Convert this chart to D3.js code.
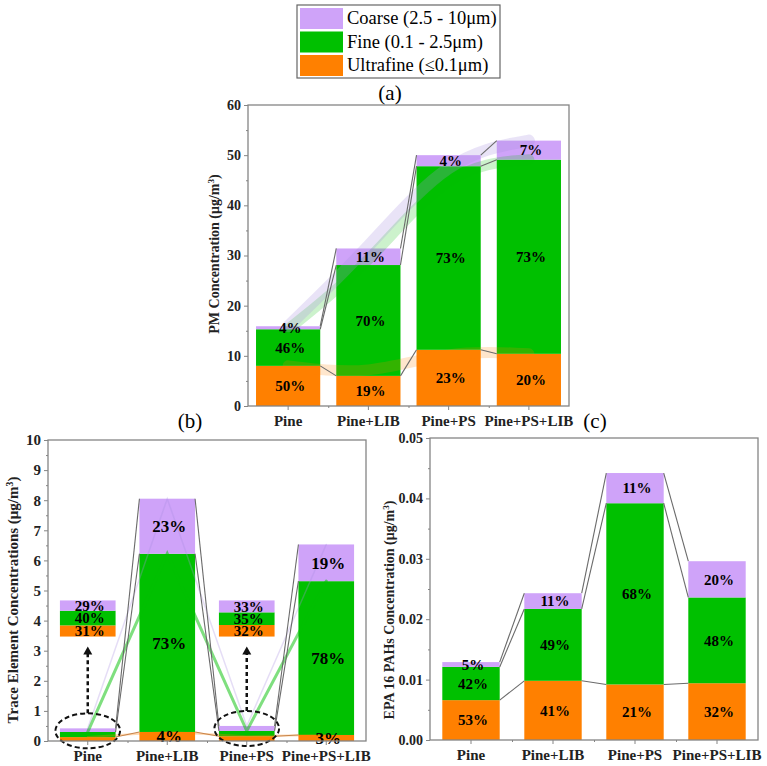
<!DOCTYPE html>
<html>
<head>
<meta charset="utf-8">
<script src="https://cdn.jsdelivr.net/npm/d3@7"></script>
<style>
body { margin: 0; background: #fff; }
svg text { font-family: "Liberation Serif", "Times New Roman", serif; }
</style>
</head>
<body>
<svg id="chart" width="767" height="766"></svg>
<script>
// ---- data ----
var categories = ["Pine", "Pine+LIB", "Pine+PS", "Pine+PS+LIB"];
var sizeClasses = ["Coarse (2.5 - 10\u03bcm)", "Fine (0.1 - 2.5\u03bcm)", "Ultrafine (\u22640.1\u03bcm)"];
var classColors = ["#CFA3F9", "#00C000", "#FF8000"];

// (a) PM concentration, ug/m3
var pmUltrafine = [8.0, 6.0, 11.2, 10.4];
var pmFine = [7.3, 22.1, 36.6, 38.7];
var pmCoarse = [0.6, 3.3, 2.2, 3.8];
var pmUltrafineLabels = ["50%", "19%", "23%", "20%"];
var pmFineLabels = ["46%", "70%", "73%", "73%"];
var pmCoarseLabels = ["4%", "11%", "4%", "7%"];
var pmTicks = [0, 10, 20, 30, 40, 50, 60];

// (b) trace elements, ug/m3
var teUltrafine = [0.13, 0.30, 0.16, 0.20];
var teFine = [0.17, 5.92, 0.175, 5.11];
var teCoarse = [0.12, 1.83, 0.165, 1.22];
var teUltrafineLabels = [null, "4%", null, "3%"];
var teFineLabels = [null, "73%", null, "78%"];
var teCoarseLabels = [null, "23%", null, "19%"];
var teInsetBars = [0, 2];
var teInsetLabels = [["31%", "40%", "29%"], null, ["32%", "35%", "33%"], null];
var teTicks = [0, 1, 2, 3, 4, 5, 6, 7, 8, 9, 10];

// (c) EPA 16 PAHs, ug/m3
var pahUltrafine = [0.0066, 0.0098, 0.0092, 0.0094];
var pahFine = [0.0055, 0.0119, 0.0300, 0.0142];
var pahCoarse = [0.0008, 0.0026, 0.0050, 0.0060];
var pahUltrafineLabels = ["53%", "41%", "21%", "32%"];
var pahFineLabels = ["42%", "49%", "68%", "48%"];
var pahCoarseLabels = ["5%", "11%", "11%", "20%"];
var pahTicks = [0, 0.01, 0.02, 0.03, 0.04, 0.05];

var svg = d3.select("#chart");

/**
 * Draws the legend box on top of the figure
 */
function drawLegend() {
    var lg = svg.append("g").attr("transform", "translate(297,5)");
    lg.append("rect")
        .attr("width", 203).attr("height", 73)
        .attr("fill", "#fff").attr("stroke", "#666").attr("stroke-width", 1.2);
    var rows = lg.selectAll("g.row").data(sizeClasses).enter().append("g")
        .attr("transform", function (d, i) { return "translate(3," + (3 + i * 23.5) + ")"; });
    rows.append("rect")
        .attr("width", 43).attr("height", 21)
        .attr("fill", function (d, i) { return classColors[i]; });
    rows.append("text")
        .attr("x", 47).attr("y", 16)
        .attr("font-size", 18.5)
        .text(function (d) { return d; });
}

/**
 * Draws one stacked bar panel
 */
function drawPanel(p) {
    var g = svg.append("g");

    var x = d3.scaleBand().domain(categories)
        .range([p.left, p.right])
        .paddingInner(p.pad).paddingOuter(p.pad / 2);
    var xLin = d3.scaleLinear().domain([0.5, categories.length + 0.5]).range([p.left, p.right]);
    var y = d3.scaleLinear().domain([0, p.ymax]).range([p.bottom, p.top]);

    // build stacks: ultrafine, fine, coarse (bottom up)
    var stacks = categories.map(function (c, i) {
        var u = p.ultrafine[i], f = p.fine[i], co = p.coarse[i];
        return [
            {cat: c, i: i, y0: 0, y1: u, color: classColors[2], label: p.ultraLabels[i]},
            {cat: c, i: i, y0: u, y1: u + f, color: classColors[1], label: p.fineLabels[i]},
            {cat: c, i: i, y0: u + f, y1: u + f + co, color: classColors[0], label: p.coarseLabels[i]}
        ];
    });
    var segs = [].concat.apply([], stacks);

    g.selectAll("rect.seg").data(segs).enter().append("rect")
        .attr("class", "seg")
        .attr("x", function (d) { return x(d.cat); })
        .attr("width", x.bandwidth())
        .attr("y", function (d) { return y(d.y1); })
        .attr("height", function (d) { return y(d.y0) - y(d.y1); })
        .attr("fill", function (d) { return d.color; });

    // translucent trend bands through bar centres
    if (p.bands) {
        [2, 1, 0].forEach(function (k) {
            var pts = stacks.map(function (s) { return [x(s[0].cat) + x.bandwidth() / 2, y(s[2 - k].y1)]; });
            g.append("path")
                .attr("d", d3.line().curve(p.bands.curve)(pts))
                .attr("fill", "none")
                .attr("stroke", k === 0 ? "#a98fe0" : classColors[k])
                .attr("stroke-opacity", p.bands.opacity[k])
                .attr("stroke-width", p.bands.width[k])
                .attr("stroke-linecap", "round");
        });
    }

    // connector lines between neighbouring bars
    for (var i = 0; i < stacks.length - 1; i++) {
        for (var k = 0; k < 3; k++) {
            g.append("line")
                .attr("x1", x(categories[i]) + x.bandwidth())
                .attr("y1", y(stacks[i][k].y1))
                .attr("x2", x(categories[i + 1]))
                .attr("y2", y(stacks[i + 1][k].y1))
                .attr("stroke", k === 0 && p.ultraLineColor ? p.ultraLineColor : "#6a6a6a")
                .attr("stroke-width", 1.1);
        }
    }

    // percentage labels
    g.selectAll("text.pct").data(segs.filter(function (d) { return d.label; })).enter().append("text")
        .attr("class", "pct")
        .attr("x", function (d) { return x(d.cat) + x.bandwidth() / 2 + 2; })
        .attr("y", function (d) { return (y(d.y0) + y(d.y1)) / 2; })
        .attr("dy", "0.35em")
        .attr("text-anchor", "middle")
        .attr("font-size", p.labelSize)
        .attr("font-weight", "bold")
        .text(function (d) { return d.label; });

    // magnified insets for the tiny bars
    if (p.insets) {
        p.insets.forEach(function (idx) {
            var s = stacks[idx];
            var total = s[2].y1;
            var cx = x(categories[idx]) + x.bandwidth() / 2;
            var base = p.insetBase;
            var ig = g.append("g");
            s.forEach(function (d, k) {
                var h0 = base + d.y0 / total * p.insetSpan;
                var h1 = base + d.y1 / total * p.insetSpan;
                ig.append("rect")
                    .attr("x", x(d.cat)).attr("width", x.bandwidth())
                    .attr("y", y(h1)).attr("height", y(h0) - y(h1))
                    .attr("fill", d.color);
            });
            s.forEach(function (d, k) {
                var h0 = base + d.y0 / total * p.insetSpan;
                var h1 = base + d.y1 / total * p.insetSpan;
                ig.append("text")
                    .attr("x", cx + 2).attr("y", (y(h0) + y(h1)) / 2)
                    .attr("dy", "0.35em")
                    .attr("text-anchor", "middle")
                    .attr("font-size", p.insetLabelSize)
                    .attr("font-weight", "bold")
                    .text(p.insetLabels[idx][k]);
            });
            // dashed ellipse round the tiny bar
            var cy = y(total) + 2.5;
            g.append("ellipse")
                .attr("cx", cx).attr("cy", cy)
                .attr("rx", x.bandwidth() / 2 + 4.5).attr("ry", 17.5)
                .attr("fill", "none").attr("stroke", "#111")
                .attr("stroke-width", 2).attr("stroke-dasharray", "5,3");
            // dashed arrow up to the inset
            var yStart = cy - 17.5;
            var yTip = y(base) + 10;
            g.append("line")
                .attr("x1", cx).attr("x2", cx)
                .attr("y1", yStart).attr("y2", yTip + 7)
                .attr("stroke", "#111").attr("stroke-width", 2.5)
                .attr("stroke-dasharray", "4,3");
            g.append("path")
                .attr("d", "M" + (cx - 4.5) + "," + (yTip + 8) + "L" + cx + "," + yTip + "L" + (cx + 4.5) + "," + (yTip + 8) + "Z")
                .attr("fill", "#111");
        });
    }

    // frame
    g.append("rect")
        .attr("x", p.left).attr("y", p.top)
        .attr("width", p.right - p.left).attr("height", p.bottom - p.top)
        .attr("fill", "none").attr("stroke", "#858585").attr("stroke-width", 1.3);

    // y axis, major and minor ticks
    var minor = [];
    for (var t = 0; t < p.ticks.length - 1; t++) minor.push((p.ticks[t] + p.ticks[t + 1]) / 2);
    var yAxis = g.append("g").attr("transform", "translate(" + p.left + ",0)")
        .call(d3.axisLeft(y).tickValues(p.ticks).tickFormat(p.tickFormat).tickSize(4).tickPadding(3));
    var yMinor = g.append("g").attr("transform", "translate(" + p.left + ",0)")
        .call(d3.axisLeft(y).tickValues(minor).tickFormat("").tickSize(2));
    [yAxis, yMinor].forEach(function (a) {
        a.select(".domain").remove();
        a.selectAll("line").attr("stroke", "#858585");
    });
    yAxis.selectAll("text")
        .attr("font-size", p.tickSize).attr("font-weight", "bold").attr("fill", "#222")
        .style("font-family", "'Liberation Serif', serif");

    // x axis
    var xAxis = g.append("g").attr("transform", "translate(0," + p.bottom + ")")
        .call(d3.axisBottom(x).tickSize(4).tickPadding(5));
    var xMinor = g.append("g").attr("transform", "translate(0," + p.bottom + ")")
        .call(d3.axisBottom(xLin).tickValues([1.5, 2.5, 3.5]).tickFormat("").tickSize(2));
    [xAxis, xMinor].forEach(function (a) {
        a.select(".domain").remove();
        a.selectAll("line").attr("stroke", "#858585");
    });
    xAxis.selectAll("text")
        .attr("font-size", 15).attr("font-weight", "bold").attr("fill", "#222")
        .style("font-family", "'Liberation Serif', serif");

    // y title
    var title = g.append("text")
        .attr("transform", "translate(" + p.titleX + "," + p.titleY + ") rotate(-90)")
        .attr("text-anchor", "middle")
        .attr("font-size", p.titleSize)
        .attr("font-weight", "bold")
        .attr("fill", "#222");
    title.append("tspan").text(p.title + " (\u03bcg/m");
    title.append("tspan").attr("baseline-shift", "super").attr("font-size", p.titleSize * 0.65).text("3");
    title.append("tspan").text(")");

    // panel letter
    svg.append("text")
        .attr("x", p.letterX).attr("y", p.letterY)
        .attr("text-anchor", "middle")
        .attr("font-size", 21)
        .text(p.letter);
}

drawLegend();

drawPanel({
    left: 248, right: 569, top: 105, bottom: 406, ymax: 60, pad: 0.2,
    ultrafine: pmUltrafine, fine: pmFine, coarse: pmCoarse,
    ultraLabels: pmUltrafineLabels, fineLabels: pmFineLabels, coarseLabels: pmCoarseLabels,
    ticks: pmTicks, tickFormat: d3.format("d"), tickSize: 14, labelSize: 15,
    bands: {curve: d3.curveBasis, opacity: [0.25, 0.2, 0.2], width: [12, 11, 11]},
    title: "PM Concentration", titleX: 219, titleY: 254, titleSize: 14,
    letter: "(a)", letterX: 390, letterY: 100
});

drawPanel({
    left: 48, right: 366, top: 440, bottom: 741, ymax: 10, pad: 0.3,
    ultrafine: teUltrafine, fine: teFine, coarse: teCoarse,
    ultraLabels: teUltrafineLabels, fineLabels: teFineLabels, coarseLabels: teCoarseLabels,
    ticks: teTicks, tickFormat: d3.format("d"), tickSize: 15, labelSize: 17,
    bands: {curve: d3.curveLinear, opacity: [0.3, 0.5, 0.3], width: [1.5, 3, 2]},
    ultraLineColor: "#c8844a",
    insets: teInsetBars, insetLabels: teInsetLabels, insetBase: 3.47, insetSpan: 1.2, insetLabelSize: 15,
    title: "Trace Element Concentrations", titleX: 18, titleY: 600, titleSize: 15,
    letter: "(b)", letterX: 190, letterY: 428
});

drawPanel({
    left: 430, right: 758, top: 438, bottom: 740, ymax: 0.05, pad: 0.3,
    ultrafine: pahUltrafine, fine: pahFine, coarse: pahCoarse,
    ultraLabels: pahUltrafineLabels, fineLabels: pahFineLabels, coarseLabels: pahCoarseLabels,
    ticks: pahTicks, tickFormat: d3.format(".2f"), tickSize: 14, labelSize: 15,
    title: "EPA 16 PAHs Concentration", titleX: 394, titleY: 610, titleSize: 14,
    letter: "(c)", letterX: 595, letterY: 428
});
</script>
</body>
</html>
